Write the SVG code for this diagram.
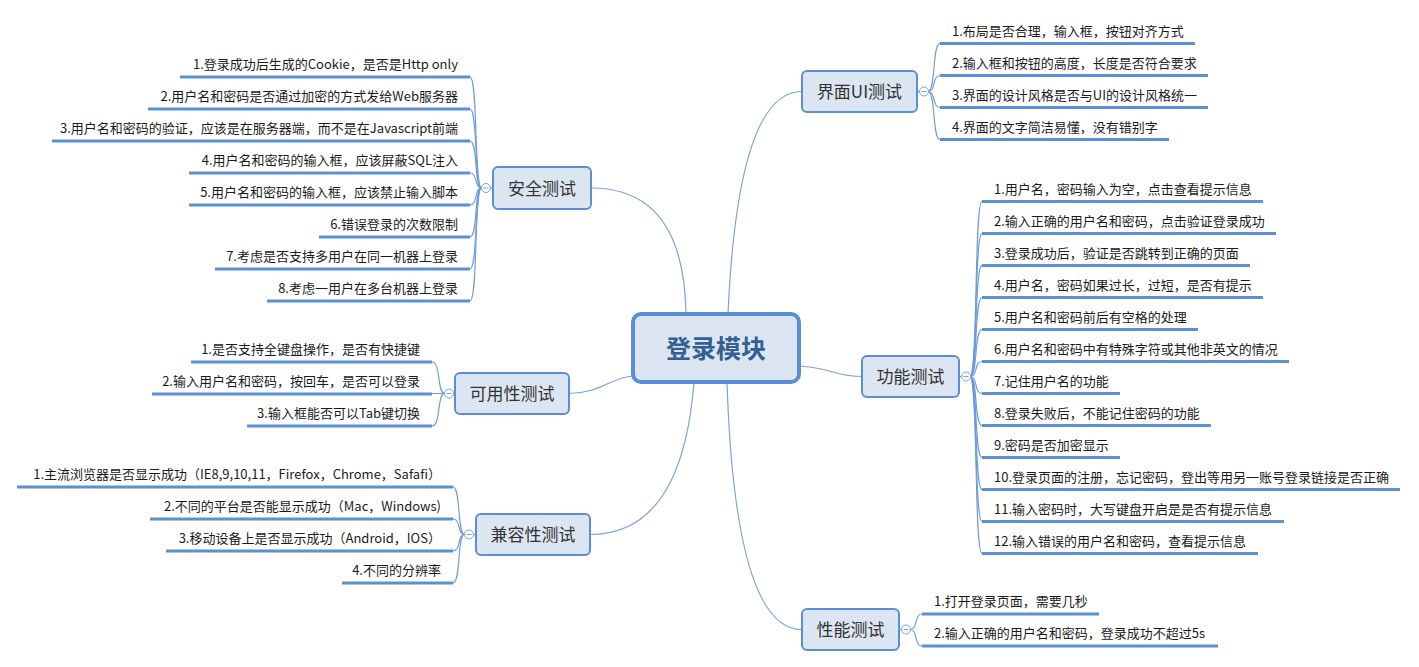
<svg xmlns="http://www.w3.org/2000/svg" width="1419" height="667" viewBox="0 0 1419 667">
<style>
.bg{fill:#ffffff}
.conn{fill:none;stroke:#7ba3dc;stroke-width:1.2}
.sub{fill:none;stroke:#6d9ad8;stroke-width:1.1}
.uline{stroke:#5b8fd6;stroke-width:3;fill:none}
.box{fill:#dce6f2;stroke:#5b8ed6;stroke-width:2}
.root{fill:#dce6f2;stroke:#5b8ed6;stroke-width:4}
.btxt{font-family:"Noto Sans CJK SC","Microsoft YaHei",sans-serif;font-size:17px;fill:#333333;text-anchor:middle}
.rtxt{font-family:"Noto Sans CJK SC","Microsoft YaHei",sans-serif;font-size:25px;font-weight:bold;fill:#355f91;text-anchor:middle}
.leaf{font-family:"Noto Sans CJK SC","Microsoft YaHei",sans-serif;font-size:13px;fill:#1a1a1a}
.r{text-anchor:end}
.tog{fill:#ffffff;stroke:#7ba3dc;stroke-width:1}
.minus{stroke:#7ba3dc;stroke-width:1}
</style>
<rect class="bg" x="0" y="0" width="1419" height="667"/>

<g id="connectors">
  <!-- root to branches -->
  <path class="conn" d="M728,314 Q738,91 802,91.5"/>
  <path class="conn" d="M686,314 Q684,188 591,188"/>
  <path class="conn" d="M569,393.5 C600,393.5 612,377 633,376"/>
  <path class="conn" d="M694,382 Q682,534.5 590,534.5"/>
  <path class="conn" d="M799,366 C832,368 836,376.5 862,376.5"/>
  <path class="conn" d="M727,382 Q735,629.5 802,629.5"/>
  <!-- box to toggles -->
  <path class="sub" d="M917,91.5 H920"/>
  <path class="sub" d="M959,376.5 H962"/>
  <path class="sub" d="M899,629.5 H902"/>
  <path class="sub" d="M493,188 H490"/>
  <path class="sub" d="M455,393.5 H453"/>
  <path class="sub" d="M476,534.5 H473"/>
  <!-- 界面UI测试 leaves -->
  <path class="sub" d="M928,91.5 C936,91.5 932,43.5 940,43.5"/>
  <path class="sub" d="M928,91.5 C936,91.5 932,75.5 940,75.5"/>
  <path class="sub" d="M928,91.5 C936,91.5 932,107.5 940,107.5"/>
  <path class="sub" d="M928,91.5 C936,91.5 932,139.5 940,139.5"/>
  <!-- 功能测试 leaves -->
  <path class="sub" d="M970,376.5 C978,376.5 974,201.5 982,201.5"/>
  <path class="sub" d="M970,376.5 C978,376.5 974,233.5 982,233.5"/>
  <path class="sub" d="M970,376.5 C978,376.5 974,265.5 982,265.5"/>
  <path class="sub" d="M970,376.5 C978,376.5 974,297.5 982,297.5"/>
  <path class="sub" d="M970,376.5 C978,376.5 974,329.5 982,329.5"/>
  <path class="sub" d="M970,376.5 C978,376.5 974,361.5 982,361.5"/>
  <path class="sub" d="M970,376.5 C978,376.5 974,393.5 982,393.5"/>
  <path class="sub" d="M970,376.5 C978,376.5 974,425.5 982,425.5"/>
  <path class="sub" d="M970,376.5 C978,376.5 974,457.5 982,457.5"/>
  <path class="sub" d="M970,376.5 C978,376.5 974,489.5 982,489.5"/>
  <path class="sub" d="M970,376.5 C978,376.5 974,521.5 982,521.5"/>
  <path class="sub" d="M970,376.5 C978,376.5 974,553.5 982,553.5"/>
  <!-- 性能测试 leaves -->
  <path class="sub" d="M910,629.5 C918,629.5 914,614 922,614"/>
  <path class="sub" d="M910,629.5 C918,629.5 914,646 922,646"/>
  <!-- 安全测试 leaves -->
  <path class="sub" d="M481.5,188 C474,188 478,77 470,77"/>
  <path class="sub" d="M481.5,188 C474,188 478,109 470,109"/>
  <path class="sub" d="M481.5,188 C474,188 478,141 470,141"/>
  <path class="sub" d="M481.5,188 C474,188 478,173 470,173"/>
  <path class="sub" d="M481.5,188 C474,188 478,205 470,205"/>
  <path class="sub" d="M481.5,188 C474,188 478,237 470,237"/>
  <path class="sub" d="M481.5,188 C474,188 478,269 470,269"/>
  <path class="sub" d="M481.5,188 C474,188 478,301 470,301"/>
  <!-- 可用性测试 leaves -->
  <path class="sub" d="M444.5,393.5 C437,393.5 441,362 432,362"/>
  <path class="sub" d="M444.5,393.5 H432"/>
  <path class="sub" d="M444.5,393.5 C437,393.5 441,426 432,426"/>
  <!-- 兼容性测试 leaves -->
  <path class="sub" d="M464.5,534.5 C457,534.5 461,487 453,487"/>
  <path class="sub" d="M464.5,534.5 C457,534.5 461,519 453,519"/>
  <path class="sub" d="M464.5,534.5 C457,534.5 461,551 453,551"/>
  <path class="sub" d="M464.5,534.5 C457,534.5 461,583 453,583"/>
</g>

<g id="root">
  <rect class="root" x="633" y="314" width="166" height="68" rx="8"/>
  <text class="rtxt" x="716" y="358">登录模块</text>
</g>

<g id="ui">
  <rect class="box" x="802" y="71" width="115" height="41" rx="5"/>
  <text class="btxt" x="859.5" y="98">界面UI测试</text>
  <circle class="tog" cx="924" cy="91.5" r="4.5"/><path class="minus" d="M921.5,91.5 H926.5"/>
</g>
<g id="ui-leaves">
  <path class="uline" d="M940,43.5 H1195"/><text class="leaf" x="952" y="35.5">1.布局是否合理，输入框，按钮对齐方式</text>
  <path class="uline" d="M940,75.5 H1208"/><text class="leaf" x="952" y="67.5">2.输入框和按钮的高度，长度是否符合要求</text>
  <path class="uline" d="M940,107.5 H1208"/><text class="leaf" x="952" y="99.5">3.界面的设计风格是否与UI的设计风格统一</text>
  <path class="uline" d="M940,139.5 H1169"/><text class="leaf" x="952" y="131.5">4.界面的文字简洁易懂，没有错别字</text>
</g>

<g id="func">
  <rect class="box" x="862" y="356" width="97" height="41" rx="5"/>
  <text class="btxt" x="910.5" y="383">功能测试</text>
  <circle class="tog" cx="966" cy="376.5" r="4.5"/><path class="minus" d="M963.5,376.5 H968.5"/>
</g>
<g id="func-leaves">
  <path class="uline" d="M982,201.5 H1263"/><text class="leaf" x="994" y="193.5">1.用户名，密码输入为空，点击查看提示信息</text>
  <path class="uline" d="M982,233.5 H1276"/><text class="leaf" x="994" y="225.5">2.输入正确的用户名和密码，点击验证登录成功</text>
  <path class="uline" d="M982,265.5 H1250"/><text class="leaf" x="994" y="257.5">3.登录成功后，验证是否跳转到正确的页面</text>
  <path class="uline" d="M982,297.5 H1263"/><text class="leaf" x="994" y="289.5">4.用户名，密码如果过长，过短，是否有提示</text>
  <path class="uline" d="M982,329.5 H1198"/><text class="leaf" x="994" y="321.5">5.用户名和密码前后有空格的处理</text>
  <path class="uline" d="M982,361.5 H1289"/><text class="leaf" x="994" y="353.5">6.用户名和密码中有特殊字符或其他非英文的情况</text>
  <path class="uline" d="M982,393.5 H1120"/><text class="leaf" x="994" y="385.5">7.记住用户名的功能</text>
  <path class="uline" d="M982,425.5 H1211"/><text class="leaf" x="994" y="417.5">8.登录失败后，不能记住密码的功能</text>
  <path class="uline" d="M982,457.5 H1120"/><text class="leaf" x="994" y="449.5">9.密码是否加密显示</text>
  <path class="uline" d="M982,489.5 H1400"/><text class="leaf" x="994" y="481.5">10.登录页面的注册，忘记密码，登出等用另一账号登录链接是否正确</text>
  <path class="uline" d="M982,521.5 H1284"/><text class="leaf" x="994" y="513.5">11.输入密码时，大写键盘开启是是否有提示信息</text>
  <path class="uline" d="M982,553.5 H1258"/><text class="leaf" x="994" y="545.5">12.输入错误的用户名和密码，查看提示信息</text>
</g>

<g id="perf">
  <rect class="box" x="802" y="609" width="97" height="41" rx="5"/>
  <text class="btxt" x="850.5" y="636">性能测试</text>
  <circle class="tog" cx="906" cy="629.5" r="4.5"/><path class="minus" d="M903.5,629.5 H908.5"/>
</g>
<g id="perf-leaves">
  <path class="uline" d="M922,614 H1099"/><text class="leaf" x="934" y="606">1.打开登录页面，需要几秒</text>
  <path class="uline" d="M922,646 H1218"/><text class="leaf" x="934" y="638">2.输入正确的用户名和密码，登录成功不超过5s</text>
</g>

<g id="sec">
  <rect class="box" x="493" y="167" width="98" height="42" rx="5"/>
  <text class="btxt" x="542" y="194.5">安全测试</text>
  <circle class="tog" cx="486" cy="188" r="4.5"/><path class="minus" d="M483.5,188 H488.5"/>
</g>
<g id="sec-leaves">
  <path class="uline" d="M180,77 H470"/><text class="leaf r" x="458" y="69">1.登录成功后生成的Cookie，是否是Http only</text>
  <path class="uline" d="M148,109 H470"/><text class="leaf r" x="458" y="101">2.用户名和密码是否通过加密的方式发给Web服务器</text>
  <path class="uline" d="M52,141 H470"/><text class="leaf r" x="458" y="133">3.用户名和密码的验证，应该是在服务器端，而不是在Javascript前端</text>
  <path class="uline" d="M189,173 H470"/><text class="leaf r" x="458" y="165">4.用户名和密码的输入框，应该屏蔽SQL注入</text>
  <path class="uline" d="M189,205 H470"/><text class="leaf r" x="458" y="197">5.用户名和密码的输入框，应该禁止输入脚本</text>
  <path class="uline" d="M319,237 H470"/><text class="leaf r" x="458" y="229">6.错误登录的次数限制</text>
  <path class="uline" d="M215,269 H470"/><text class="leaf r" x="458" y="261">7.考虑是否支持多用户在同一机器上登录</text>
  <path class="uline" d="M267,301 H470"/><text class="leaf r" x="458" y="293">8.考虑一用户在多台机器上登录</text>
</g>

<g id="usab">
  <rect class="box" x="455" y="373" width="114" height="41" rx="5"/>
  <text class="btxt" x="512" y="400">可用性测试</text>
  <circle class="tog" cx="449" cy="393.5" r="4.5"/><path class="minus" d="M446.5,393.5 H451.5"/>
</g>
<g id="usab-leaves">
  <path class="uline" d="M191,362 H432"/><text class="leaf r" x="420" y="354">1.是否支持全键盘操作，是否有快捷键</text>
  <path class="uline" d="M152,394 H432"/><text class="leaf r" x="420" y="386">2.输入用户名和密码，按回车，是否可以登录</text>
  <path class="uline" d="M247,426 H432"/><text class="leaf r" x="420" y="418">3.输入框能否可以Tab键切换</text>
</g>

<g id="compat">
  <rect class="box" x="476" y="514" width="114" height="41" rx="5"/>
  <text class="btxt" x="533" y="541">兼容性测试</text>
  <circle class="tog" cx="469" cy="534.5" r="4.5"/><path class="minus" d="M466.5,534.5 H471.5"/>
</g>
<g id="compat-leaves">
  <path class="uline" d="M17,487 H453"/><text class="leaf r" x="441" y="479">1.主流浏览器是否显示成功（IE8,9,10,11，Firefox，Chrome，Safafi）</text>
  <path class="uline" d="M150,519 H453"/><text class="leaf r" x="441" y="511">2.不同的平台是否能显示成功（Mac，Windows)</text>
  <path class="uline" d="M166,551 H453"/><text class="leaf r" x="441" y="543">3.移动设备上是否显示成功（Android，IOS）</text>
  <path class="uline" d="M342,583 H453"/><text class="leaf r" x="441" y="575">4.不同的分辨率</text>
</g>
</svg>
